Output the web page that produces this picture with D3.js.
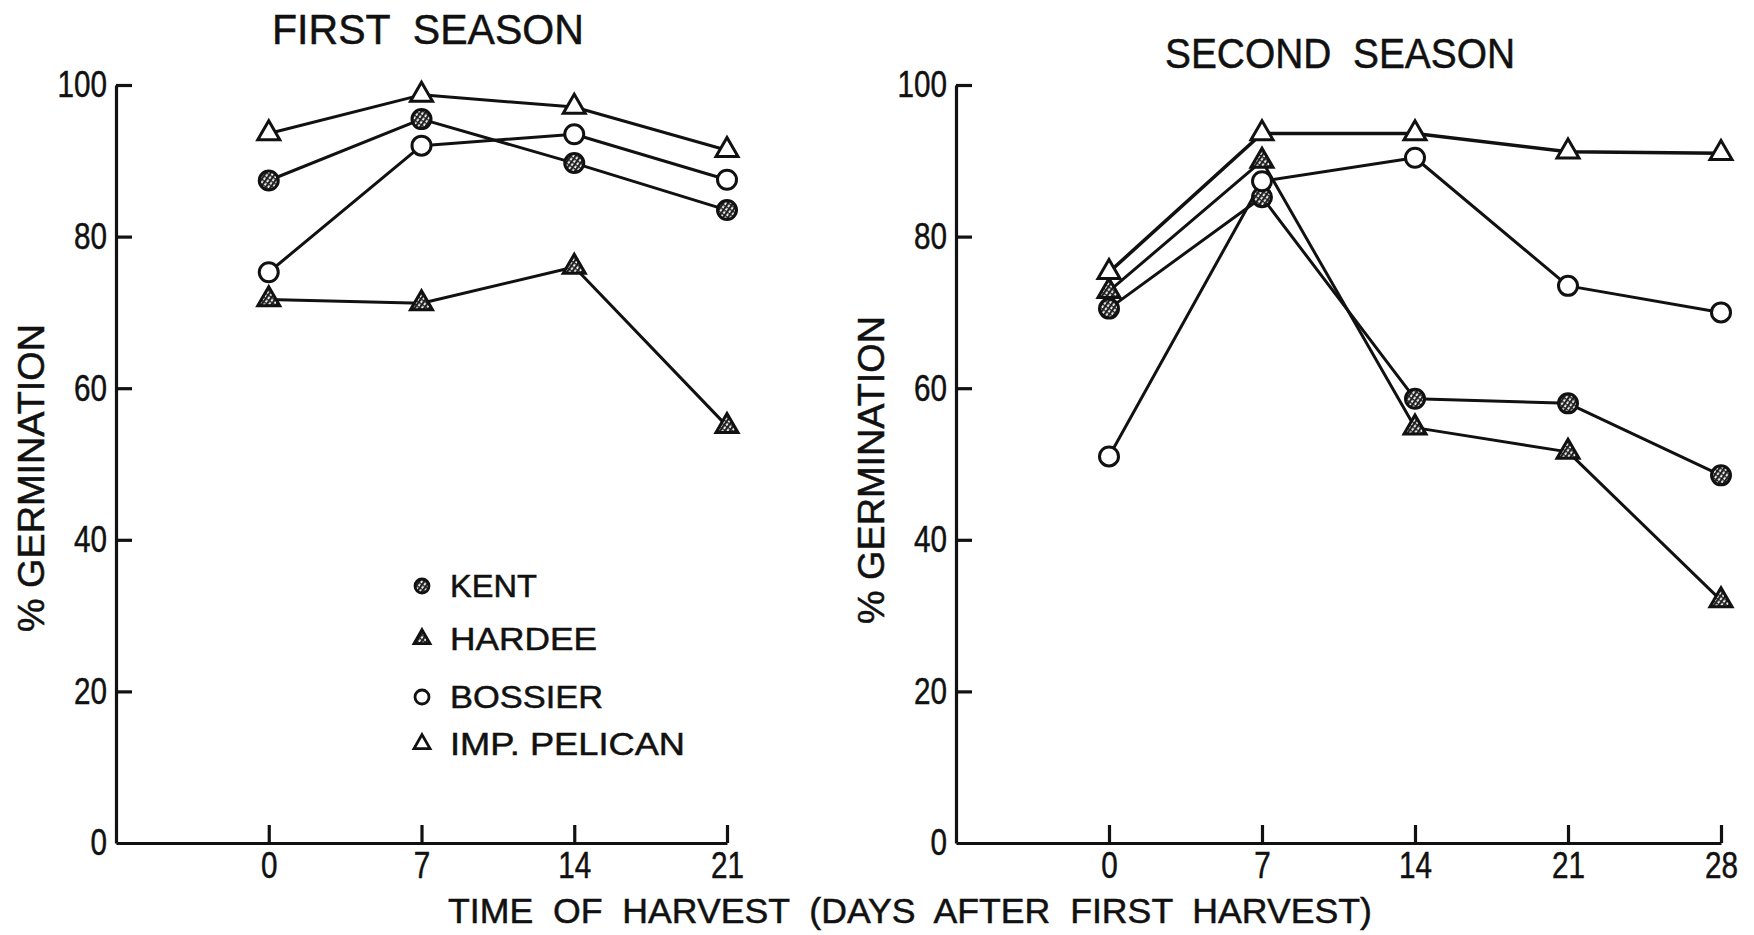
<!DOCTYPE html>
<html>
<head>
<meta charset="utf-8">
<script src="https://cdn.jsdelivr.net/npm/d3@7"></script>
<style>
  html, body { margin: 0; padding: 0; background: #fff; }
  svg { display: block; }
  text { font-family: "Liberation Sans", Arial, "DejaVu Sans", sans-serif; fill: #111; stroke: #111; stroke-width: 0.5; white-space: pre; }
</style>
</head>
<body>
<svg id="chart" width="1754" height="935"></svg>
<script>
// ---------------- data ----------------
const varieties = ["KENT", "HARDEE", "BOSSIER", "IMP. PELICAN"];
const daysFirst = [0, 7, 14, 21];
const daysSecond = [0, 7, 14, 21, 28];
const yTicks = [0, 20, 40, 60, 80, 100];

// First season (% germination)
const kentFirst    = [87.4, 95.5, 89.7, 83.5];
const hardeeFirst  = [71.7, 71.2, 76.0, 55.0];
const bossierFirst = [75.3, 92.0, 93.5, 87.5];
const pelicanFirst = [93.6, 98.7, 97.1, 91.4];

// Second season (% germination)
const kentSecond    = [70.5, 85.2, 58.6, 58.0, 48.5];
const hardeeSecond  = [72.8, 90.0, 54.8, 51.6, 32.0];
const bossierSecond = [51.0, 87.3, 90.4, 73.5, 70.0];
const pelicanSecond = [75.3, 93.6, 93.6, 91.2, 91.0];

const panelTitles = ["FIRST  SEASON", "SECOND  SEASON"];
const yTitle = "% GERMINATION";
const xTitle = "TIME  OF  HARVEST  (DAYS  AFTER  FIRST  HARVEST)";

// marker type per variety: shape + hatched?
const markerStyle = {
  "KENT": { shape: "circle", hatched: true },
  "HARDEE": { shape: "triangle", hatched: true },
  "BOSSIER": { shape: "circle", hatched: false },
  "IMP. PELICAN": { shape: "triangle", hatched: false }
};

// ---------------- drawing ----------------
const svg = d3.select("#chart");
const defs = svg.append("defs");
const pat = defs.append("pattern")
  .attr("id", "hatch").attr("patternUnits", "userSpaceOnUse")
  .attr("width", 4).attr("height", 4)
  .attr("patternTransform", "rotate(35)");
pat.append("rect").attr("width", 4).attr("height", 4).attr("fill", "#fff");
pat.append("rect").attr("width", 2.2).attr("height", 4).attr("fill", "#222");
pat.append("rect").attr("width", 4).attr("height", 1.4).attr("fill", "#222");

const INK = "#111";
const y = d3.scaleLinear().domain([0, 100]).range([843, 85]);

function triPath(w, h) {
  return `M0,${-2 * h / 3}L${w / 2},${h / 3}L${-w / 2},${h / 3}Z`;
}

function drawMarker(g, style, cx, cy, big) {
  const fill = style.hatched ? "url(#hatch)" : "#fff";
  if (style.shape === "circle") {
    g.append("circle").attr("cx", cx).attr("cy", cy)
      .attr("r", big ? 9.5 : 7)
      .attr("fill", fill).attr("stroke", INK).attr("stroke-width", big ? 3 : 2.8);
  } else {
    g.append("path").attr("d", big ? triPath(22, 19) : triPath(16, 14))
      .attr("transform", `translate(${cx},${cy})`)
      .attr("fill", fill).attr("stroke", INK).attr("stroke-width", big ? 3 : 2.8)
      .attr("stroke-linejoin", "miter");
  }
}

function fitText(sel, charW) {
  sel.each(function () {
    const t = d3.select(this);
    const s = t.text();
    t.attr("textLength", s.length * charW).attr("lengthAdjust", "spacingAndGlyphs");
  });
}

function panel(cfg) {
  const x = d3.scaleLinear().domain([-7, cfg.days[cfg.days.length - 1]]).range([cfg.x0, cfg.x1]);
  const g = svg.append("g");

  // y axis
  const ya = g.append("g").attr("transform", `translate(${cfg.x0},0)`)
    .call(d3.axisLeft(y).tickValues(yTicks).tickSize(-16).tickSizeOuter(0).tickPadding(9)
      .tickFormat(d3.format("d")));
  // x axis
  const xa = g.append("g").attr("transform", `translate(0,${y(0)})`)
    .call(d3.axisBottom(x).tickValues(cfg.days).tickSize(-18).tickSizeOuter(0).tickPadding(9)
      .tickFormat(d3.format("d")));
  [ya, xa].forEach(a => {
    a.select(".domain").attr("stroke", INK).attr("stroke-width", 3.2);
    a.selectAll(".tick line").attr("stroke", INK).attr("stroke-width", 3.2);
    a.selectAll(".tick text").attr("font-size", 37).attr("fill", INK)
      .attr("font-family", "Liberation Sans, Arial, sans-serif");
    fitText(a.selectAll(".tick text"), 16.5);
  });
  ya.selectAll(".tick").filter(d => d === 0).select("line").remove();

  // series
  const line = d3.line().x(d => x(d[0])).y(d => y(d[1]));
  cfg.series.forEach(s => {
    const pts = cfg.days.map((d, i) => [d, s.values[i]]);
    g.append("path").datum(pts).attr("d", line)
      .attr("fill", "none").attr("stroke", INK).attr("stroke-width", s.lw || 3)
      .attr("stroke-linejoin", "round");
  });
  cfg.series.forEach(s => {
    const mg = g.append("g");
    cfg.days.forEach((d, i) => drawMarker(mg, markerStyle[s.name], x(d), y(s.values[i]), true));
  });

  // title
  g.append("text").attr("x", cfg.titleX).attr("y", cfg.titleY)
    .attr("text-anchor", "middle").attr("font-size", 43)
    .attr("textLength", cfg.titleW).attr("lengthAdjust", "spacingAndGlyphs")
    .text(cfg.title);

  // y title
  g.append("text")
    .attr("transform", `translate(${cfg.yTitleX},${cfg.yTitleY}) rotate(-90)`)
    .attr("text-anchor", "middle").attr("font-size", 36)
    .attr("textLength", 308).attr("lengthAdjust", "spacingAndGlyphs")
    .text(yTitle);
}

panel({
  days: daysFirst, x0: 116, x1: 727,
  title: panelTitles[0], titleX: 428, titleY: 44, titleW: 312,
  yTitleX: 44, yTitleY: 478,
  series: [
    { name: "HARDEE", values: hardeeFirst },
    { name: "BOSSIER", values: bossierFirst },
    { name: "KENT", values: kentFirst },
    { name: "IMP. PELICAN", values: pelicanFirst }
  ]
});

panel({
  days: daysSecond, x0: 956, x1: 1721,
  title: panelTitles[1], titleX: 1340, titleY: 68, titleW: 350,
  yTitleX: 884, yTitleY: 470,
  series: [
    { name: "HARDEE", values: hardeeSecond },
    { name: "KENT", values: kentSecond },
    { name: "BOSSIER", values: bossierSecond },
    { name: "IMP. PELICAN", values: pelicanSecond, lw: 3.6 }
  ]
});

// legend
const legendY = [586, 639, 697, 744];
const legendW = [87, 147, 153, 235];
const lg = svg.append("g");
varieties.forEach((v, i) => {
  drawMarker(lg, markerStyle[v], 422, legendY[i], false);
  lg.append("text").attr("x", 450).attr("y", legendY[i] + 11)
    .attr("font-size", 31)
    .attr("textLength", legendW[i]).attr("lengthAdjust", "spacingAndGlyphs")
    .text(v);
});

// x title
svg.append("text").attr("x", 910).attr("y", 923)
  .attr("text-anchor", "middle").attr("font-size", 35)
  .attr("textLength", 924).attr("lengthAdjust", "spacingAndGlyphs")
  .text(xTitle);
</script>
</body>
</html>
